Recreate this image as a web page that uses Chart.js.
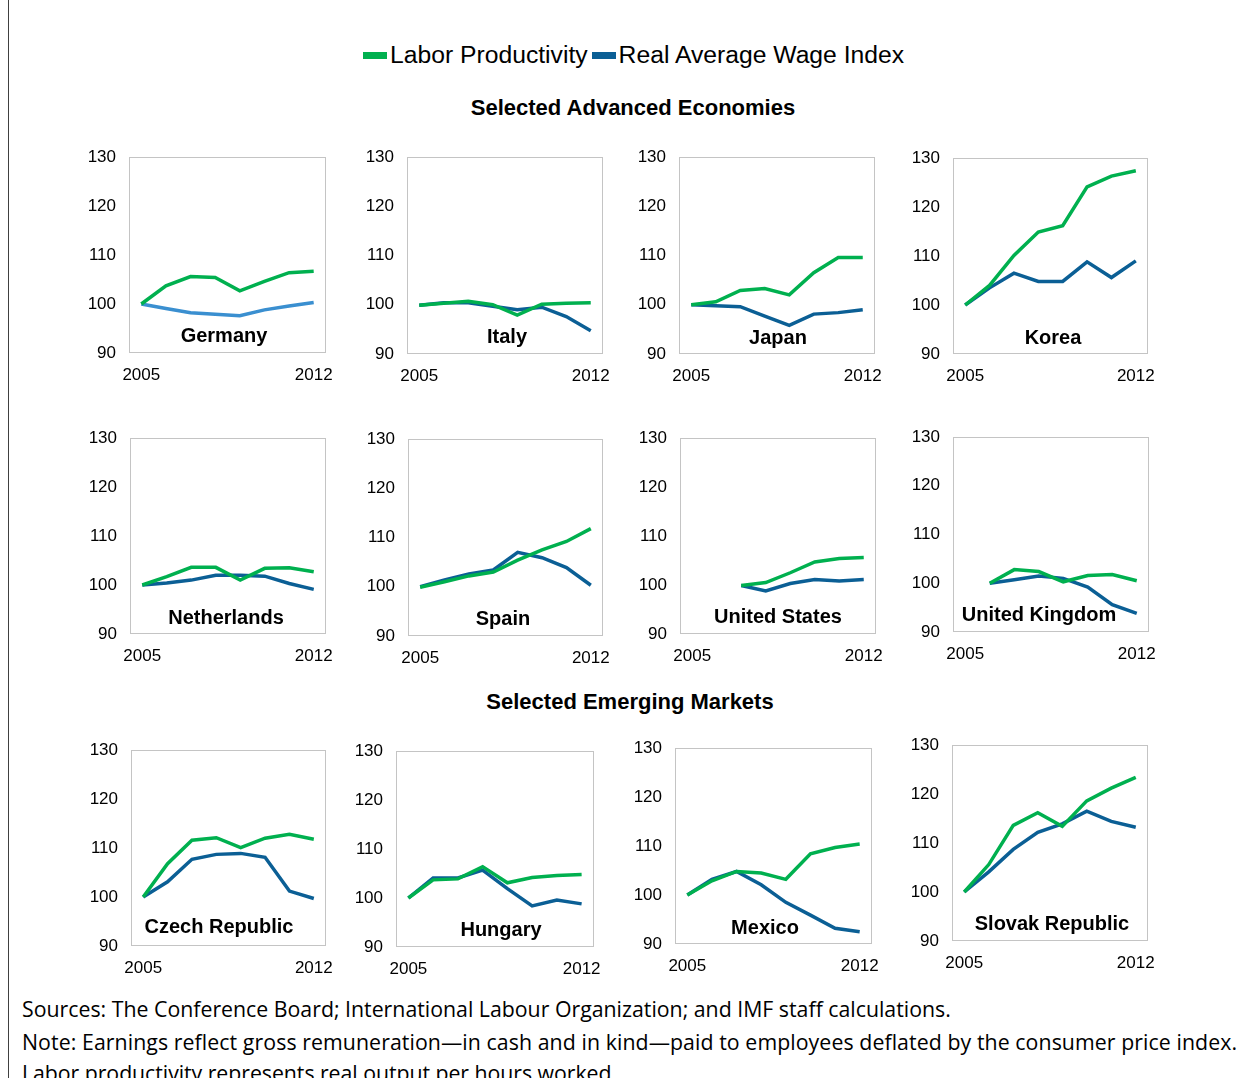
<!DOCTYPE html>
<html>
<head>
<meta charset="utf-8">
<script src="https://cdn.jsdelivr.net/npm/chart.js@4.4.0/dist/chart.umd.min.js"></script>
<style>
  html, body { margin: 0; padding: 0; background: #fff; }
  body { width: 1244px; height: 1078px; overflow: hidden; position: relative; font-family: "Liberation Sans", Arial, sans-serif; color: #000; }
  .abs { position: absolute; }
  .frame { left: 8px; top: 0; width: 1px; height: 1078px; background: #404040; }
  .legend { top: 40px; left: 363px; height: 30px; display: flex; align-items: center; font-size: 24.7px; white-space: nowrap; }
  .swatch { width: 24px; height: 7px; display: inline-block; margin-right: 3px; }
  .section { font-weight: bold; font-size: 22px; white-space: nowrap; transform: translate(-50%, -50%); }
  .foot { left: 22px; font-family: "Open Sans", "Noto Sans", sans-serif; white-space: nowrap; transform: translateY(-50%); }
</style>
</head>
<body>
<div class="abs frame"></div>
<div class="abs legend" id="legend"></div>
<div class="abs section" style="left:633px; top:108px;">Selected Advanced Economies</div>
<div class="abs section" style="left:630px; top:702px;">Selected Emerging Markets</div>
<div class="abs foot" id="f1" style="top:1008px;">Sources: The Conference Board; International Labour Organization; and IMF staff calculations.</div>
<div class="abs foot" id="f2" style="top:1041px;">Note: Earnings reflect gross remuneration—in cash and in kind—paid to employees deflated by the consumer price index.</div>
<div class="abs foot" id="f3" style="top:1072px;">Labor productivity represents real output per hours worked.</div>
<div id="panels"></div>
<script>
// ---------------- DATA ----------------
const years = ['2005', '2006', '2007', '2008', '2009', '2010', '2011', '2012'];
const seriesNames = ['Labor Productivity', 'Real Average Wage Index'];
const yTicks = [90, 100, 110, 120, 130];

const germanyProd = [100, 103.7, 105.6, 105.4, 102.7, 104.6, 106.4, 106.7];
const germanyWage = [100, 99.1, 98.2, 97.9, 97.6, 98.8, 99.6, 100.3];
const italyProd = [99.9, 100.3, 100.7, 100.0, 97.9, 100.1, 100.3, 100.4];
const italyWage = [99.9, 100.4, 100.4, 99.7, 99.0, 99.5, 97.6, 94.7];
const japanProd = [100, 100.6, 102.9, 103.3, 102.0, 106.5, 109.6, 109.6];
const japanWage = [100, 99.8, 99.6, 97.7, 95.8, 98.1, 98.4, 99.0];
const koreaProd = [100, 104.0, 110.1, 114.9, 116.2, 124.1, 126.3, 127.4];
const koreaWage = [100, 103.5, 106.5, 104.8, 104.8, 108.8, 105.6, 109.0];
const netherlandsProd = [100, 101.7, 103.6, 103.6, 101.0, 103.4, 103.5, 102.7];
const netherlandsWage = [100, 100.4, 101.0, 102.0, 102.0, 101.8, 100.3, 99.1];
const spainProd = [99.9, 101.0, 102.2, 103.0, 105.4, 107.5, 109.2, 111.8];
const spainWage = [100, 101.4, 102.6, 103.4, 107.0, 105.9, 103.9, 100.3];
const usProd = [null, null, 99.9, 100.5, 102.5, 104.7, 105.4, 105.6];
const usWage = [null, null, 99.9, 98.8, 100.3, 101.1, 100.8, 101.1];
const ukProd = [null, 100, 102.8, 102.4, 100.3, 101.6, 101.8, 100.5];
const ukWage = [null, 100, 100.7, 101.5, 101.0, 99.2, 95.6, 93.8];
const czechProd = [100, 106.8, 111.6, 112.1, 110.1, 112.0, 112.8, 111.8];
const czechWage = [100, 103.1, 107.7, 108.7, 108.9, 108.1, 101.2, 99.7];
const hungaryProd = [100, 103.7, 103.9, 106.4, 103.1, 104.2, 104.6, 104.8];
const hungaryWage = [100, 104.1, 104.1, 105.7, 101.9, 98.4, 99.6, 98.8];
const mexicoProd = [100, 102.9, 104.8, 104.5, 103.2, 108.4, 109.7, 110.4];
const mexicoWage = [100, 103.2, 104.8, 102.1, 98.5, 95.9, 93.2, 92.5];
const slovakProd = [100, 105.6, 113.6, 116.2, 113.4, 118.6, 121.2, 123.4];
const slovakWage = [100, 104.1, 108.7, 112.2, 113.9, 116.5, 114.4, 113.2];

const countryNames = ['Germany', 'Italy', 'Japan', 'Korea', 'Netherlands', 'Spain', 'United States', 'United Kingdom', 'Czech Republic', 'Hungary', 'Mexico', 'Slovak Republic'];
const prodSeries = [germanyProd, italyProd, japanProd, koreaProd, netherlandsProd, spainProd, usProd, ukProd, czechProd, hungaryProd, mexicoProd, slovakProd];
const wageSeries = [germanyWage, italyWage, japanWage, koreaWage, netherlandsWage, spainWage, usWage, ukWage, czechWage, hungaryWage, mexicoWage, slovakWage];

// ---------------- STYLE / LAYOUT ----------------
const GREEN = '#00b04f';
const BLUE = '#0b5f95';
const BLUE_LIGHT = '#3a8fd0';
// plot-box geometry [left, top, width, height] and label centre [x, y], page px
const boxes = [
  [129, 157, 197, 196], [407, 157, 196, 197], [679, 157, 196, 197], [953, 158, 195, 196],
  [130, 438, 196, 196], [408, 439, 195, 197], [680, 438, 196, 196], [953, 437, 196, 195],
  [131, 750, 195, 196], [396, 751, 198, 196], [675, 748, 197, 196], [952, 745, 196, 196]
];
const labelPos = [
  [224, 336], [507, 337], [778, 338], [1053, 338],
  [226, 618], [503, 619], [778, 617], [1039, 615],
  [219, 927], [501, 930], [765, 928], [1052, 924]
];

Chart.defaults.font.family = '"Liberation Sans", Arial, sans-serif';
Chart.defaults.color = '#000';

// legend
const legend = document.getElementById('legend');
[[GREEN, seriesNames[0]], [BLUE, seriesNames[1]]].forEach(([c, t]) => {
  const s = document.createElement('span'); s.className = 'swatch'; s.style.background = c;
  const l = document.createElement('span'); l.textContent = t; l.style.marginRight = '4px';
  legend.appendChild(s); legend.appendChild(l);
});

// footer font fit
(function () {
  const ids = ['f1', 'f2', 'f3'];
  const targets = [929, 1215, 595];
  const ctx = document.createElement('canvas').getContext('2d');
  const fam = '"Open Sans", "Noto Sans", sans-serif';
  ctx.font = '20px ' + fam;
  const w0 = ctx.measureText(document.getElementById('f1').textContent).width;
  const size = 20 * targets[0] / w0;
  ctx.font = size + 'px ' + fam;
  ids.forEach((id, k) => {
    const el = document.getElementById(id);
    el.style.fontSize = size.toFixed(2) + 'px';
    if (k > 0) {
      const t = el.textContent;
      const w = ctx.measureText(t).width;
      el.style.letterSpacing = ((targets[k] - w) / (t.length - 1)).toFixed(3) + 'px';
    }
  });
})();

const PADL = 60, PADT = 24, PADR = 20, PADB = 42;

const decor = {
  id: 'decor',
  beforeDatasetsDraw(chart) {
    const { ctx, chartArea: a } = chart;
    ctx.save();
    ctx.strokeStyle = '#c4c4c4';
    ctx.lineWidth = 1;
    ctx.strokeRect(Math.round(a.left) + 0.5, Math.round(a.top) + 0.5, Math.round(a.right - a.left) - 1, Math.round(a.bottom - a.top) - 1);
    ctx.restore();
  },
  afterDatasetsDraw(chart, args, opts) {
    const { ctx } = chart;
    ctx.save();
    ctx.font = 'bold 20px "Liberation Sans", Arial, sans-serif';
    ctx.fillStyle = '#000';
    ctx.textAlign = 'center';
    ctx.textBaseline = 'middle';
    ctx.fillText(opts.text, opts.x, opts.y);
    ctx.restore();
  }
};

const panels = document.getElementById('panels');
countryNames.forEach((name, i) => {
  const [L, T, W, H] = boxes[i];
  const cw = W + PADL + PADR, ch = H + PADT + PADB;
  const cl = L - PADL, ct = T - PADT;
  const div = document.createElement('div');
  div.className = 'abs';
  div.style.left = cl + 'px'; div.style.top = ct + 'px';
  div.style.width = cw + 'px'; div.style.height = ch + 'px';
  const cv = document.createElement('canvas');
  cv.width = cw; cv.height = ch;
  cv.style.width = cw + 'px'; cv.style.height = ch + 'px';
  div.appendChild(cv); panels.appendChild(div);

  new Chart(cv, {
    type: 'line',
    data: {
      labels: years,
      datasets: [
        { label: seriesNames[0], data: prodSeries[i], borderColor: GREEN, borderWidth: 3.5, pointRadius: 0, tension: 0, fill: false, spanGaps: false },
        { label: seriesNames[1], data: wageSeries[i], borderColor: i === 0 ? BLUE_LIGHT : BLUE, borderWidth: 3.5, pointRadius: 0, tension: 0, fill: false, spanGaps: false }
      ]
    },
    options: {
      responsive: false,
      animation: false,
      devicePixelRatio: 1,
      layout: { padding: { left: 0, top: PADT, right: PADR, bottom: 0 } },
      plugins: {
        legend: { display: false },
        tooltip: { enabled: false },
        title: { display: false },
        decor: { text: name, x: labelPos[i][0] - cl, y: labelPos[i][1] - ct }
      },
      scales: {
        x: {
          type: 'category',
          offset: true,
          grid: { display: false, drawTicks: false },
          border: { display: false },
          ticks: {
            autoSkip: false, maxRotation: 0, minRotation: 0, padding: 12,
            font: { size: 17 }, color: '#000',
            callback: function (v, idx, ticks) { return (idx === 0 || idx === ticks.length - 1) ? this.getLabelForValue(v) : ''; }
          },
          afterFit: s => { s.height = PADB; }
        },
        y: {
          min: yTicks[0], max: yTicks[yTicks.length - 1],
          grid: { display: false, drawTicks: false },
          border: { display: false },
          afterBuildTicks: s => { s.ticks = yTicks.map(v => ({ value: v })); },
          ticks: { padding: 13, font: { size: 17 }, color: '#000' },
          afterFit: s => { s.width = PADL; }
        }
      }
    },
    plugins: [decor]
  });
});
</script>
</body>
</html>
